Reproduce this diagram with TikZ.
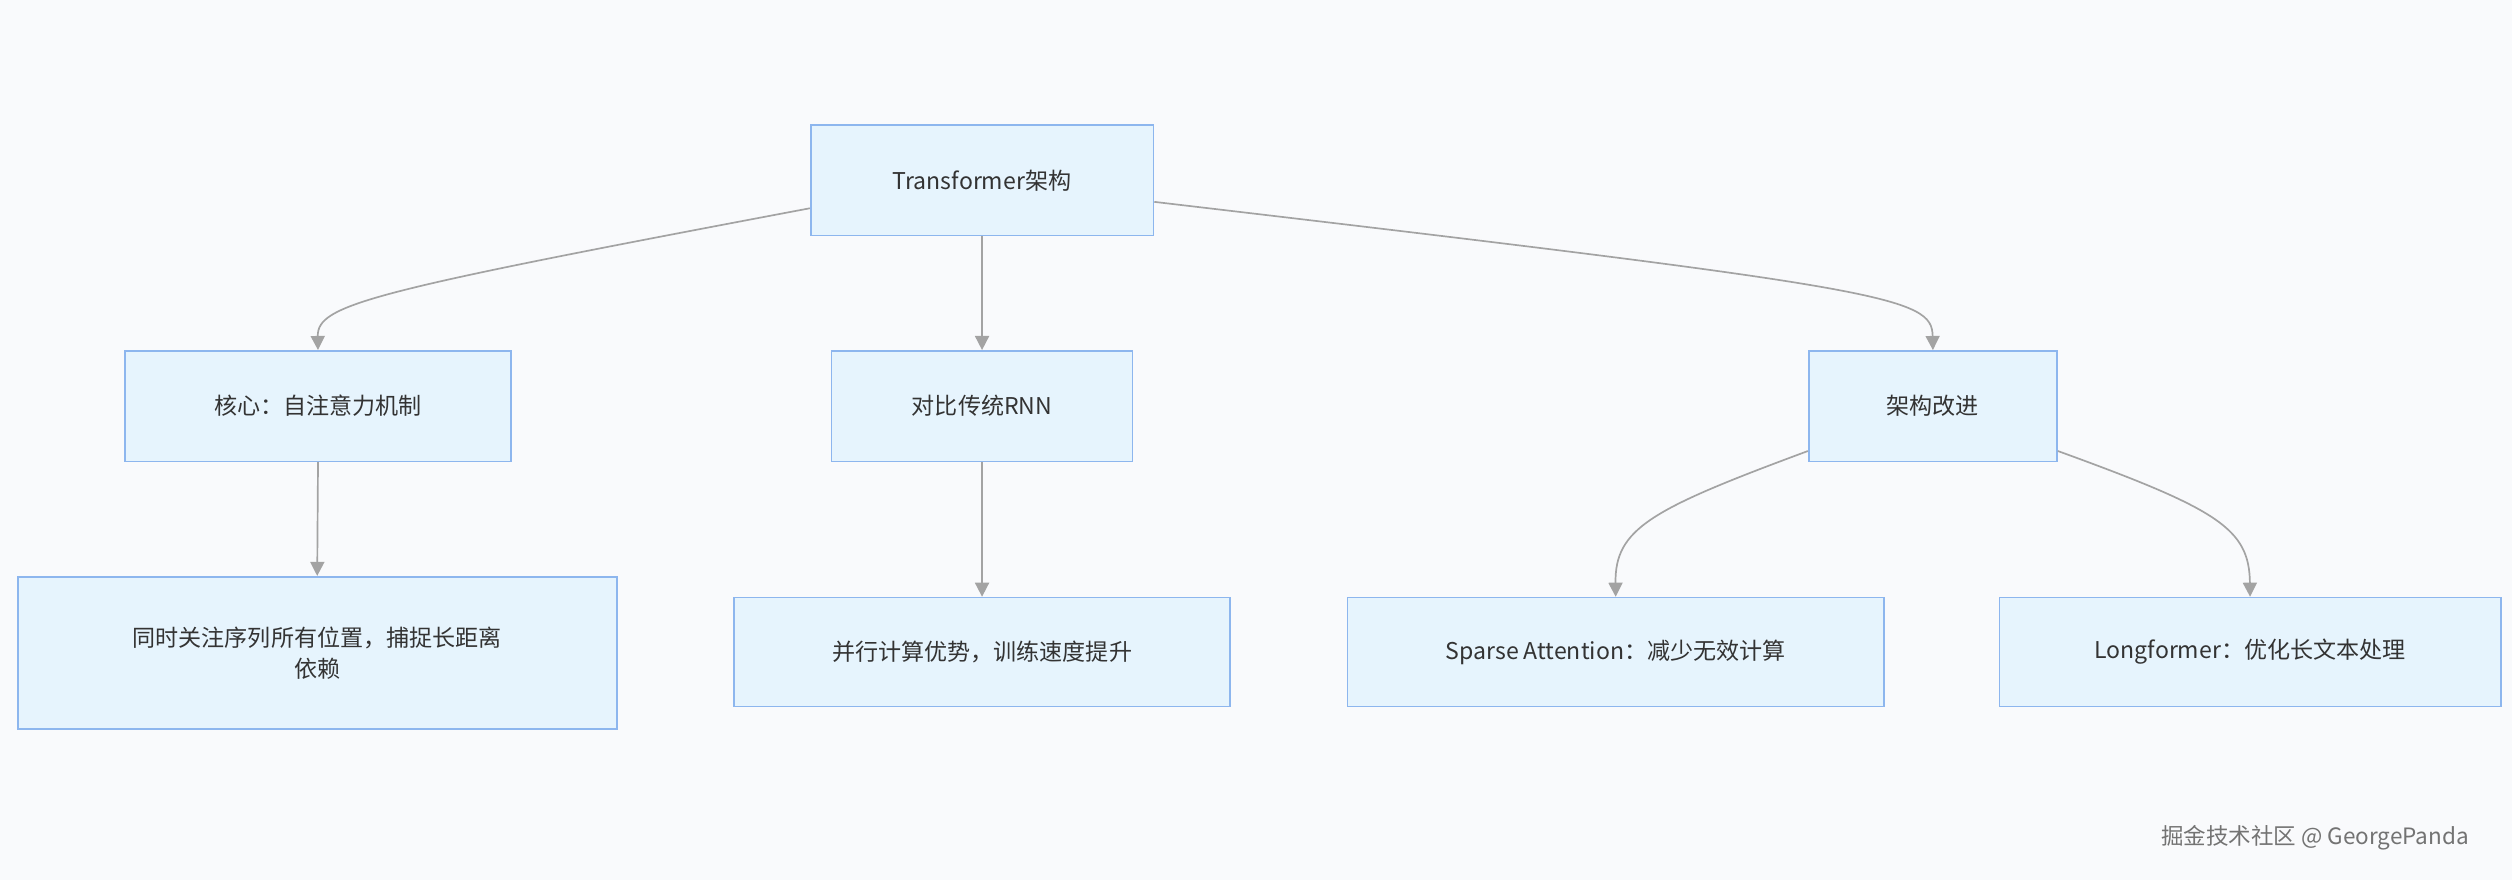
\documentclass[tikz,border=0pt]{standalone}
\usepackage{fontspec}
\setmainfont{Noto Sans CJK SC}
\usetikzlibrary{arrows.meta}
\definecolor{bgcol}{HTML}{F9FAFC}
\definecolor{boxfill}{HTML}{E6F4FD}
\definecolor{boxline}{HTML}{8DB6EE}
\definecolor{linecol}{HTML}{A3A3A3}
\tikzset{
  box/.style={draw=boxline, fill=boxfill, line width=0.6pt, align=center,
    inner sep=0pt, font=\fontsize{8.2pt}{11pt}\selectfont, text=black!80},
  arr/.style={draw=linecol, line width=0.6pt, -{Triangle[length=5pt,width=5pt,fill=linecol]}}
}
\begin{document}
\begin{tikzpicture}[x=0.02cm, y=-0.02cm]
    \fill[bgcol] (0,0) rectangle (1568,549);
    % Nodes
    \node[box, minimum width=4.28cm, minimum height=1.38cm] (T) at (613,112.5) {Transformer架构};
    \node[box, minimum width=4.82cm, minimum height=1.38cm] (core) at (198.5,253.5) {核心：自注意力机制};
    \node[box, minimum width=3.76cm, minimum height=1.38cm] (rnn) at (613,253.5) {对比传统RNN};
    \node[box, minimum width=3.10cm, minimum height=1.38cm] (impr) at (1206.5,253.5) {架构改进};
    \node[box, minimum width=7.48cm, minimum height=1.90cm] (attn) at (198,407.5) {同时关注序列所有位置，捕捉长距离\\依赖};
    \node[box, minimum width=6.20cm, minimum height=1.36cm] (para) at (613,407) {并行计算优势，训练速度提升};
    \node[box, minimum width=6.70cm, minimum height=1.36cm] (sparse) at (1008.5,407) {Sparse Attention：减少无效计算};
    \node[box, minimum width=6.26cm, minimum height=1.36cm] (long) at (1404.5,407) {Longformer：优化长文本处理};
    % Edges
    \draw[arr] ([yshift=-0.35cm]T.west) .. controls (230,182) and (198,190) .. (core.north);
    \draw[arr] (T.south) -- (rnn.north);
    \draw[arr] ([yshift=-0.27cm]T.east) .. controls (1180,180) and (1206,185) .. (impr.north);
    \draw[arr] (core.south) -- (attn.north);
    \draw[arr] (rnn.south) -- (para.north);
    \draw[arr] ([yshift=0.14cm]impr.south west) .. controls (1030,318) and (1008,330) .. (sparse.north);
    \draw[arr] ([yshift=0.14cm]impr.south east) .. controls (1385,318) and (1404,330) .. (long.north);
    \node[text=black!55, font=\fontsize{8pt}{10pt}\selectfont] (mark) at (1445,523) {掘金技术社区 @ GeorgePanda};
\end{tikzpicture}
\end{document}
